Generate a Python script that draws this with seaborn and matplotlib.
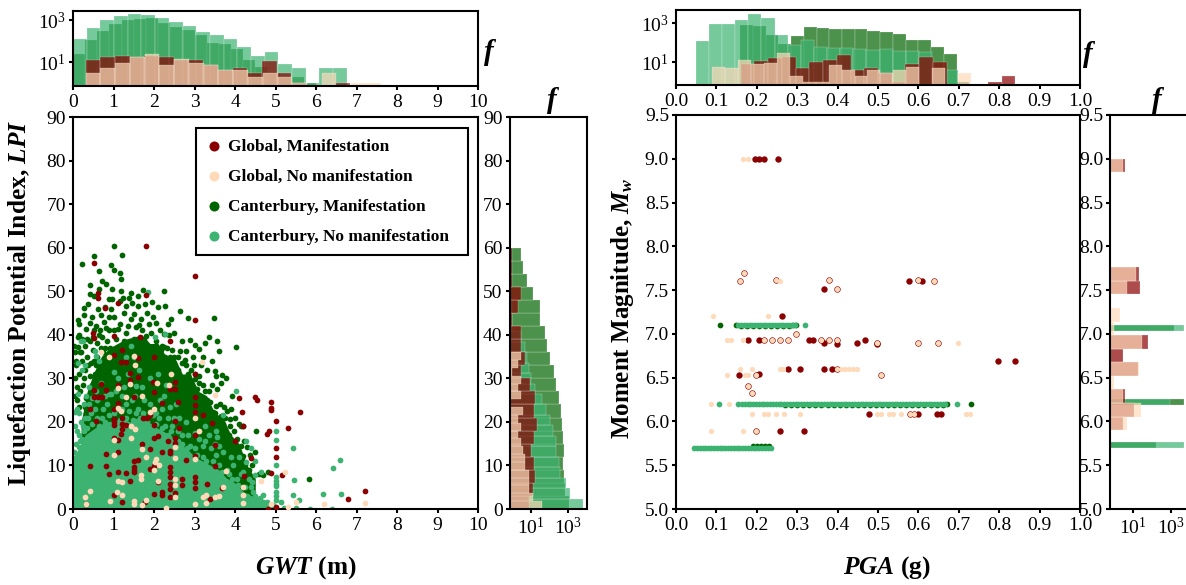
import numpy as np
import pandas as pd
import matplotlib
matplotlib.use('Agg')
import matplotlib.pyplot as plt
import seaborn as sns

W, H = 1186, 585

C_MAN = 'darkgreen'
C_NO = 'mediumseagreen'
G_MAN = 'darkred'
G_NO = 'peachpuff'

# scatter points, left panel (GWT, LPI)
canterbury_man_lpi = [(1.01,60.3),(.53,58.1),(1.21,58.3),(.23,56.2),(.95,56),(1.01,54.8),(.63,54.6),(1.15,54.2),(1.19,52.9),(.72,52.4),
    (.41,51.4),(.82,51.6),(.97,50.6),(.64,50.6),(1.19,50),(1.74,50.3),(2.25,50),(1.42,49.7),(.41,49.4),(.53,49),(1.6,49),(.96,48.2),
    (1.38,48.5),(1.15,47.8),(.37,47.1),(.78,46.3),(.26,46.1),(1.6,46.5),(1.46,47.3),(1.96,47.6),(2.26,46.5),(2.1,46.3),(2.65,45.4),
    (2.84,43.8),(3.47,43.9),(.12,43.5),(.7,44.5),(.89,44),(.41,42.6),(1.15,42.5),(1.44,43.6),(1.69,43.6),(2.04,42.7),(1.87,42.5),
    (.16,42.5),(.56,42.1),(.82,41.5),(.33,41.3),(1.11,41.3),(1.56,41.7),(1.93,40.5),(2.25,40.2),(2.36,39.9),(3.35,39.6),(3.56,38.6),
    (.49,39.4),(.12,37.1),(.04,36),(4.03,37.3),(3.6,36.3),(3,37.7),(2.8,36.3),(2.63,36.3),(2.59,34.8),(2.76,34.3),(2.96,34.8),(3.42,34),
    (2.98,33),(3.5,31.6),(3.67,30.8),(3.77,30),(3.54,30.6),(3.65,29),(3.36,27.2),(3.56,27.5),(3.93,26),(3.54,23.7),(3.36,22.3),(3.45,22.2),
    (3.65,21.4),(3.75,21),(3.87,20.7),(3.87,19.1),(4.16,19),(4.2,19),(4.53,17.8),(4,15.7),(4.07,12.6),(4.3,14.2),(4.2,12.2),(4.69,7.7),
    (4.81,8.4),(5.82,7),(.9,41),(1.3,40.5),(1.7,41),(.6,38),(.85,38.5),(1.05,39),(1.25,38.6),(1.5,39),(1.75,38.8),(2.05,38.5),(2.2,37.5),
    (.2,36),(.35,35),(.5,36.5),(.75,36),(2.45,36.5),(2.35,34),(2.6,32),(2.85,31),(3.1,30.5),(3.2,28.5),(3.05,27.5),(3.3,25),(3.15,24),
    (3.4,20),(3.6,18.5),(3.75,16),(3.9,14),(4.1,10.5),(4.35,9),(.08,33),(.15,31),(.3,32),(.42,30.5),(.1,28),(.25,28.5),(.38,26),(.55,31),
    (.6,27),(2.75,29),(2.95,27),(3.25,22.5),(3.5,19),(3.7,17),(4.05,14),(4.25,10),(2.5,33.5),(.68,33),(3.3,32),(3.2,35),(3.9,11),(.03,37.5),
    (.14,40),(.22,39),(.3,37.5),(.42,38.5),(.52,41),(.63,40),(.72,39.5),(.78,37),(.92,37),(.98,35.5),(1.1,37.3),(1.18,35.5),(1.33,37.2),
    (1.4,35.8),(1.47,36.6),(1.58,38),(1.65,36.5),(1.72,37.6),(1.8,39.8),(1.86,37),(1.95,36.5),(2.05,36),(2.12,35),(2.18,36.6),(2.28,35),
    (2.33,37),(2.42,32.5),(2.5,35),(2.55,30.7),(2.68,33.5),(2.72,30),(2.8,33),(2.9,28.5),(3.02,31),(3.08,26),(3.12,29),(3.25,27),(3.38,24.5),
    (3.42,28.5),(3.5,22),(3.62,24),(3.7,19.5),(3.8,22.5),(3.85,17),(3.98,18),(4.05,16),(4.15,14.5),(4.22,15.5),(4.38,12.5),(4.42,10),(4.5,13),
    (4.6,8),(4.1,19.5),(4,21),(3.9,23),(.06,30),(.1,25),(.18,27),(.22,34),(.28,30),(.32,25.5),(.36,33),(.44,33.5),(.48,28.5),(.52,34),(.6,35),
    (.66,30),(.7,37),(.8,34.5),(.04,26),(.16,23.5),(.3,23.5),(.44,25),(.58,33),(.88,35),(1.28,36),(1.54,36),(2.25,37.2),(2.4,35),(2.65,30),
    (3.05,24),(3,29.8),(2.92,32),(3.32,23),(3.58,20),(3.72,23.5),(1.02,41.2),(1.35,42),(1.62,42.3),(.67,41),(.34,39),(.76,43),(1,44),(1.25,45),
    (1.5,44.8),(1.82,45),(1.98,44),(2.35,42.5),(2.5,40.5),(2.7,38.5),(2.9,38.7),(3.1,36.7),(3.25,38),(2.15,41),(2.42,43.6),(3.15,33),(.47,44),
    (.27,44.5),(.62,46),(.95,46),(.12,39.5),(.07,34),(.18,36),(.9,48.3),(1.23,48.5),(1.78,47),(1.3,46.7)]
canterbury_no_lpi = [(6.6,11.2),(6.42,9.4),(5.42,13.9),(5,17.8),(5,15.8),(5,10.2),(5,7.3),(5,6.5),(5,5.8),(5,5.2),(5,4),(5,3),(5,2.1),
    (4.65,8.6),(4.5,7.7),(4.4,5.1),(4.69,3.3),(5.14,1.7),(5.45,6.7),(5.43,3.2),(5.58,2.1),(6.17,3.4),(6.61,3.4),(5.84,.1),(6.4,.1),
    (4.26,15.5),(4.02,27),(3.7,21.6),(3.54,18),(4.28,10.7),(4.2,8.4),(4.43,6.1),(.25,38.6),(.06,22.3),(.12,26.4),(.23,31.8),(.54,36.3),
    (1.85,49.9),(2.02,39.6),(2.26,40.2),(1.44,37.5),(1.5,34.8),(.58,35.2),(1.56,28.3),(.95,26.4),(.16,14.2),(.2,20),(.1,18),(.3,21),
    (.25,19),(.4,24),(.45,22),(.55,23),(.6,25),(.75,23),(.85,24),(1.05,27),(1.2,26),(1.3,24),(1.45,25),(1.6,23),(1.75,25),(1.9,24),
    (2.05,22),(2.2,23),(2.35,21),(2.45,19),(2.6,18),(2.7,15),(2.85,17),(3,14),(3.1,16),(3.2,12),(3.4,14),(3.5,15),(3.6,10),(3.7,13),
    (3.8,9),(3.95,10),(4.05,7),(4.15,8),(4.25,5),(4.3,3),(4.45,4),(4.55,2),(4.7,1.5),(4.85,.8),(3.35,17),(3.55,16.5),(2.5,21),(2.8,20),
    (1.1,30),(.7,29),(1.35,31),(1.9,30),(.4,28),(2.25,26),(2.55,24),(3.25,19),(4.35,7),(4.6,1),(5.2,.3),(5.5,.2),
    (.03,13),(.08,15),(.13,12),(.18,15.5),(.05,19),(.15,17),(.22,16),(.28,18),(.34,18.5),(.38,21),(.47,19.5),(.5,17),(.6,21),(.65,19),(.72,21),
    (.8,20),(.88,21.5),(.92,19.5),(1,22),(1.08,23),(1.15,20.5),(1.22,23),(1.3,21),(1.38,22.5),(1.48,20.5),(1.55,22),(1.65,21),(1.72,22),(1.82,20),
    (1.9,19),(1.97,21.5),(2.05,19.5),(2.12,21),(2.2,18.5),(2.28,19),(2.35,17),(2.42,18),(2.52,15),(2.6,15.5),(2.68,17),(2.75,13),(2.82,14),
    (2.9,14.5),(2.98,11.5),(3.05,12.5),(3.12,10.5),(3.2,14.5),(3.28,11),(3.35,9),(3.45,11),(3.52,12.5),(3.62,7),(3.68,8.5),(3.78,6.5),(3.85,8),
    (3.92,7),(4,4.5),(4.08,5.5),(4.2,3.2),(4.38,2.5),(4.5,3),(4.62,2.5),(4.78,1.5),(4.95,.9),(.58,27),(1.25,28),(.33,26),(.9,26.5),(1.52,26),
    (1.7,28),(2.15,25),(2.4,23.5),(2.62,21),(3,17.5),(3.25,15.5),(3.6,14.5),(3.9,12),(4.1,12),(.15,22),(.27,24),(.48,25.5),(.1,23),(1.02,31.5),
    (.78,26),(.12,33.5),(.2,38.5),(.3,33),(2.1,31),(2.3,28.5),(.65,34),(1.62,32),(1.3,35),(4.5,11),(4.4,14)]
global_man_lpi = [(1.8,60.3),(3,53.4),(.51,56.5),(.62,49.5),(.61,48.4),(1.81,49.2),(1.11,47.4),(.8,46.1),(3,43.3),(2.4,38.5),(.49,40.5),
    (.51,39.2),(1,39.8),(1.65,39.4),(1.21,36.6),(1.01,35.3),(2,34.8),(1.6,34.7),(1.19,33.7),(1.3,33.7),(1.41,31.2),(1.6,30.2),(1.4,29.7),
    (3,30.9),(1.98,29.2),(2.51,29.1),(.7,28.7),(1.11,28.5),(.51,27.3),(.81,27.4),(2.4,27.5),(2.51,27.5),(2,26.9),(.51,25.8),(.62,25.8),
    (.72,25.8),(1.5,25.8),(3,25.8),(4.1,25.4),(4.5,25.6),(4.55,25.1),(4.9,24.5),(4.9,23.3),(4.9,22.8),(5.6,22.3),(4.18,22.2),(2.2,24.3),
    (2.6,24.5),(1.11,24.3),(1,23),(.41,23),(3,23.9),(3,22.2),(3.21,21.6),(1.9,21.6),(1.73,21),(1.82,21),(1.21,21),(1,20.7),(1,20),(1,19.3),
    (.58,20.3),(1.21,19.5),(1.32,19.4),(1.21,18.4),(1.19,17.2),(2,19.4),(2.51,20.3),(2.61,18.5),(3.42,19.7),(4.2,19),(5,20.3),(5.3,18.7),
    (4.84,18),(4.8,17.2),(3,17),(2.1,16.7),(1.99,16.4),(2.51,16.2),(1,16.4),(1.11,15.9),(1.71,14.9),(2.35,15.7),(2.51,15.1),(3.5,14.7),
    (4,15.7),(1.9,13.8),(2.4,13.4),(2.4,12.8),(2.2,13.2),(1.11,13),(.81,12.6),(3,12.2),(2.8,11.2),(1.51,11.1),(1.6,11.2),(5,14.1),(5,12),
    (4.4,11.8),(.41,9.9),(.81,9.9),(3.5,9.9),(1.51,9.6),(1.51,9),(1.51,8.4),(1.9,9.2),(2,9.8),(2.4,9.6),(2.4,8.4),(2.4,7.3),(1.11,8.6),
    (.9,8),(1.3,8.2),(4.9,8.2),(5.16,7.9),(4.21,7.5),(1.41,6.5),(2.7,6.9),(2.7,5.4),(2.4,5.7),(2.4,4.6),(3,7.3),(3,6.1),(3,4.8),(2.1,6.3),
    (3.3,5.7),(3.69,4.8),(7.2,4.2),(6.79,2.4),(2,3.4),(2.2,3.8),(2.2,3.3),(1,3.3),(2.51,3.7),(2.4,2.8),(1.21,1.7),(1.79,1.5),(3.39,2.3),
    (.31,1.1),(5,.4),(4.81,.1)]
global_no_lpi = [(3.19,33.8),(3.5,26.2),(.9,35),(1.51,35.2),(.7,36),(1.54,33.1),(2.41,31),(1.4,28.7),(2.37,28.5),(2.07,28.9),(1.11,27.7),
    (1.71,26),(1.3,25.6),(1.11,23.1),(1.19,22.6),(2,23),(1.9,22.3),(3,21),(1.44,19.1),(1.52,18.4),(3.11,18),(1,15.9),(1.44,16.2),(1.71,13.8),
    (2.51,14.2),(1,12.5),(2.51,11.7),(1.81,11.9),(3,11.5),(2.06,11.5),(2.02,10.7),(2.12,10.2),(2,9),(3.79,8.8),(5.23,8.6),(1.69,7.7),(1.69,6.9),
    (1.11,6.5),(1.22,6.1),(2.1,6.5),(2.51,6.9),(2.51,5.4),(4.65,6.4),(4.2,5),(.41,4.2),(3.7,5.1),(1.09,3.8),(1.21,3.3),(.3,2.7),(.91,1.9),
    (1.51,1.9),(1.51,1.1),(1.81,2.1),(1.71,.9),(2.3,.2),(3.21,2.7),(3.28,3.1),(3.5,2.7),(3.6,2.9),(3.29,1.4),(4.2,3.1),(4.2,1.4),(4.9,1.1),
    (5.5,1.5),(5.3,.4),(6.2,1.1),(7.2,1.4),(.31,1.1),(2.51,2.7),(3,1.1)]

# where the markers overlap into a solid mass they are drawn as one filled area
dark_mass_gwt = [.2,.35,.5,.7,.9,1.1,1.3,1.5,1.7,1.9,2.1,2.3,2.5,2.7,2.9,3.1,3.3,3.5,3.7,3.9,4.1,4.3,4.5]
dark_mass_lpi = [20,27,31,35,37,38,39,39.5,40,38,38,35,35,31,31,27,26,22,21,17,15,10,7]
light_mass_gwt = [0,.15,.3,.45,.6,.8,1,1.2,1.4,1.6,1.8,2,2.2,2.4,2.6,2.8,3,3.2,3.4,3.6,3.8,4,4.2,4.4,4.6,4.8,5]
light_mass_lpi = [12,14,17,18,19,20,20,21,20,21,20,19,18,17,15,14,12,11,10,9,7,6,4,3,2,1,.3]

# right panel (PGA, Mw), rows of one magnitude each
canterbury_man_pga = [(.11,7.1),(.148,7.1),(.298,7.1),(.29,7.1),(.672,6.2),(.73,6.2)]
canterbury_man_bar_71 = [.16,.175,.19,.205,.22,.235,.25,.265,.28]
canterbury_man_bar_62 = [.27,.285,.3,.315,.33,.345,.36,.375,.39,.405,.42,.435,.45,.465,.48,.495,.51,.525,.54,.555,.57,.585,.6,.615,.63,.645,.66]
canterbury_man_bar_57 = [.19,.2,.21,.22,.23]
canterbury_no_bar_71 = [.154,.161,.168,.175,.182,.189,.196,.203,.21,.217,.224,.231,.238,.245,.252,.259,.266,.273,.28,.287,.295]
canterbury_no_bar_62 = [.163,.17,.177,.184,.191,.198,.205,.212,.219,.226,.233,.24,.247,.254,.261,.268,.275,.282,.289,.296,.303,.31,.317,.324,
    .331,.338,.345,.352,.359,.366,.373,.38,.387,.394,.401,.408,.415,.422,.429,.436,.443,.45,.457,.464,.471,.478,.485,.492,.499,.506,.513,.52,
    .527,.534,.541,.548,.555,.562,.569,.576,.583,.59,.597,.604,.611,.618,.625,.632,.639,.646,.653,.66,.667]
canterbury_no_bar_57 = [.045,.052,.059,.066,.073,.08,.087,.094,.101,.108,.115,.122,.129,.136,.143,.15,.157,.164,.171,.178,.185,.192,.199,.206,.213,.22,.227,.235]
canterbury_no_pga = [(.32,7.1),(.107,6.2),(.153,6.2),(.695,6.2)]
global_man_pga = [(.196,9),(.206,9),(.217,9),(.253,9),(.168,7.7),(.159,7.6),(.247,7.62),(.378,7.62),(.367,7.51),(.399,7.51),(.577,7.6),
    (.598,7.62),(.608,7.6),(.638,7.6),(.262,7.2),(.297,7),(.177,6.93),(.206,6.93),(.218,6.93),(.238,6.93),(.258,6.93),(.277,6.93),(.328,6.93),
    (.338,6.93),(.358,6.93),(.378,6.93),(.398,6.93),(.468,6.93),(.367,6.9),(.398,6.89),(.447,6.9),(.498,6.88),(.498,6.9),(.598,6.9),(.648,6.9),
    (.798,6.69),(.838,6.69),(.277,6.6),(.308,6.6),(.367,6.6),(.387,6.6),(.398,6.6),(.157,6.53),(.198,6.53),(.205,6.54),(.507,6.53),(.177,6.4),
    (.187,6.33),(.478,6.09),(.578,6.09),(.588,6.09),(.598,6.09),(.647,6.09),(.657,6.09),(.197,5.89),(.257,5.89),(.318,5.89)]
global_no_pga = [(.167,9),(.177,9),(.168,7.7),(.159,7.6),(.247,7.62),(.257,7.6),(.378,7.62),(.399,7.51),(.598,7.62),(.638,7.6),(.092,7.2),(.227,7.2),
    (.297,7),(.127,6.93),(.137,6.93),(.167,6.93),(.218,6.93),(.238,6.93),(.258,6.93),(.277,6.93),(.358,6.93),(.378,6.93),(.398,6.93),(.498,6.9),
    (.598,6.9),(.648,6.9),(.698,6.9),(.158,6.6),(.187,6.6),(.258,6.6),(.266,6.6),(.398,6.6),(.408,6.6),(.418,6.6),(.428,6.6),(.438,6.6),(.447,6.6),
    (.127,6.53),(.17,6.53),(.177,6.53),(.198,6.53),(.507,6.53),(.177,6.4),(.187,6.33),(.087,6.2),(.131,6.2),(.187,6.09),(.218,6.09),(.227,6.09),
    (.247,6.09),(.267,6.09),(.308,6.09),(.498,6.09),(.507,6.09),(.527,6.09),(.537,6.09),(.557,6.09),(.578,6.09),(.588,6.09),(.717,6.09),(.727,6.09),
    (.087,5.89),(.167,5.89),(.197,5.89)]

# histogram counts and bin edges
gwt_edges_c_man = [0,.3,.6,.9,1.2,1.5,1.8,2.1,2.4,2.7,3,3.3,3.6,3.9,4.2,4.5,4.8,5.1,5.4,5.7,6]
gwt_counts_c_man = [24,112,310,650,1000,1150,1250,750,480,335,190,83,70,40,12,6,3,2,2,1]
gwt_edges_c_no = [0,.338,.676,1.014,1.352,1.69,2.028,2.366,2.704,3.042,3.38,3.718,4.056,4.394,4.732,5.07,5.408,5.746,6.084,6.422,6.77]
gwt_counts_c_no = [120,430,1000,1600,1860,1720,1200,830,540,270,185,120,50,19,29,8,5,1,5,5]
gwt_edges_g_man = [.31,.67,1.03,1.4,1.76,2.12,2.49,2.85,3.21,3.58,3.94,4.3,4.67,5.03,5.39,5.76,6.12,6.48,6.85]
gwt_counts_g_man = [12,17,19,17,19,17,13,13,7,4,5,3,11,3,1,0,0,1]
gwt_edges_g_no = [.31,.675,1.04,1.4,1.77,2.13,2.5,2.86,3.23,3.59,3.95,4.32,4.68,5.05,5.41,5.78,6.14,6.5,6.87,7.23,7.6]
gwt_counts_g_no = [3,5,9,17,23,7,14,9,7,4,4,2,3,2,1,0,3,0,1,1]

pga_edges_c_man = [.159,.1905,.222,.2535,.285,.3165,.348,.3795,.411,.4425,.474,.5055,.537,.5685,.6,.6315,.663,.6945,.726]
pga_counts_c_man = [760,680,240,90,213,630,580,520,500,480,380,350,270,134,134,62,28,1]
pga_edges_c_no = [.049,.0815,.114,.1465,.179,.2115,.244,.2765,.309,.3415,.374,.4065,.439,.4715,.504,.5365,.569,.6015,.634,.6665,.699]
pga_counts_c_no = [123,930,860,1470,2970,1860,260,81,145,62,55,55,50,43,47,40,37,34,5,4]
pga_edges_g_man = [.16,.194,.228,.262,.296,.33,.364,.398,.432,.466,.5,.534,.568,.602,.636,.67,.704,.738,.772,.806,.84]
pga_counts_g_man = [8,12,17,19,5,11,13,25,4,5,3,1,8,19,10,0,0,0,1,2]
pga_edges_g_no = [.09,.122,.154,.186,.218,.25,.282,.314,.346,.378,.41,.442,.474,.506,.538,.57,.602,.634,.666,.698,.73]
pga_counts_g_no = [6,5,13,8,9,32,2,1,1,7,4,2,4,3,4,6,0,5,0,3]

lpi_edges_c_man = [0,3,6,9,12,15,18,21,24,27,30,33,36,39,42,45,48,51,54,57,60]
lpi_counts_c_man = [1130,660,610,540,590,540,500,420,330,240,173,115,77,58,31,31,14,6,4,3]
lpi_edges_c_no = [0,2.4,4.8,7.2,9.6,12,14.4,16.8,19.2,21.6,24,26.4,28.8,31.2,33.6,36,38.4,40.8,43.2,45.6,48]
lpi_counts_c_no = [6700,1340,750,360,330,240,220,160,115,70,38,17,10,8,6,5,3,1,1,1]
lpi_edges_g_man = lpi_edges_c_man
lpi_counts_g_man = [8,14,17,15,11,15,21,15,17,9,3,5,3,3,1,2,3,1,1,1]
lpi_edges_g_no = [0,1.8,3.6,5.4,7.2,9,10.8,12.6,14.4,16.2,18,19.8,21.6,23.4,25.2,27,28.8,30.6,32.4,34.2,36]
lpi_counts_g_no = [42,14,8,8,8,5,5,4,3,2,3,2,4,0,3,2,3,1,2,3]

mw_edges_c = [5.7,5.77,5.84,5.91,5.98,6.05,6.12,6.19,6.26,6.33,6.4,6.47,6.54,6.61,6.68,6.75,6.82,6.89,6.96,7.03,7.1]
mw_counts_c_man = [150,0,0,0,0,0,0,4600,0,0,0,0,0,0,0,0,0,0,0,1330]
mw_counts_c_no = [4600,0,0,0,0,0,0,890,0,0,0,0,0,0,0,0,0,0,0,4400]
mw_edges_g = [5.9,6.055,6.21,6.365,6.52,6.675,6.83,6.985,7.14,7.295,7.45,7.605,7.76,7.915,8.07,8.225,8.38,8.535,8.69,8.845,9]
mw_counts_g_man = [3,12,4,0,18,3,58,0,0,0,24,20,0,0,0,0,0,0,0,4]
mw_counts_g_no = [5,27,3,1,21,0,28,1,2,0,5,14,0,0,0,0,0,0,0,3]

sns.set_theme(style='ticks', rc={'axes.linewidth': 1.5, 'xtick.major.width': 1.5, 'ytick.major.width': 1.5,
                                 'xtick.major.size': 3, 'ytick.major.size': 3, 'xtick.major.pad': 3, 'ytick.major.pad': 2,
                                 'xtick.color': 'black', 'ytick.color': 'black', 'axes.edgecolor': 'black',
                                 'text.color': 'black', 'axes.labelcolor': 'black'})
plt.rcParams['font.family'] = ['Liberation Serif', 'DejaVu Serif']
plt.rcParams['mathtext.fontset'] = 'custom'
plt.rcParams['mathtext.rm'] = 'Liberation Serif'
plt.rcParams['mathtext.it'] = 'Liberation Serif:italic:bold'
plt.rcParams['mathtext.bf'] = 'Liberation Serif:bold'

fig = plt.figure(figsize=(W / 100, H / 100), dpi=100)


def px_axes(x0, y0, x1, y1):
    return fig.add_axes([x0 / W, 1 - y1 / H, (x1 - x0) / W, (y1 - y0) / H])


def points(ax, pts, color, s=17, zorder=1):
    df = pd.DataFrame(pts, columns=['x', 'y'])
    sns.scatterplot(data=df, x='x', y='y', color=color, s=s, linewidth=0, ax=ax, legend=False, zorder=zorder)


def hist_top(ax, edges, counts, color):
    mids = [(a + b) / 2 for a, b in zip(edges[:-1], edges[1:])]
    sns.histplot(x=mids, weights=counts, bins=edges, color=color, alpha=0.7,
                 edgecolor='white', linewidth=0.15, ax=ax)


def hist_side(ax, edges, counts, color):
    mids = [(a + b) / 2 for a, b in zip(edges[:-1], edges[1:])]
    sns.histplot(y=mids, weights=counts, bins=edges, color=color, alpha=0.7,
                 edgecolor='white', linewidth=0.15, ax=ax)


def style(ax):
    ax.set_xlabel('')
    ax.set_ylabel('')
    ax.tick_params(labelsize=14, length=3, width=1.5)
    ax.minorticks_off()


# left panel
ax1 = px_axes(73, 117, 478, 509)
ax1.fill_between(dark_mass_gwt, 0, dark_mass_lpi, color=C_MAN, linewidth=0, zorder=0.5)
points(ax1, canterbury_man_lpi, C_MAN, zorder=1)
ax1.fill_between(light_mass_gwt, 0, light_mass_lpi, color=C_NO, linewidth=0, zorder=1.5)
points(ax1, canterbury_no_lpi, C_NO, zorder=2)
points(ax1, global_man_lpi, G_MAN, zorder=3)
points(ax1, global_no_lpi, G_NO, zorder=4)
ax1.set_xlim(0, 10)
ax1.set_ylim(0, 90)
ax1.set_xticks(range(0, 11))
ax1.set_yticks(range(0, 91, 10))
style(ax1)

# empty handles so the legend keeps the reference order
for lab, col in [('Global, Manifestation', G_MAN), ('Global, No manifestation', G_NO),
                 ('Canterbury, Manifestation', C_MAN), ('Canterbury, No manifestation', C_NO)]:
    ax1.scatter([], [], color=col, s=52, linewidth=0, label=lab)
ax1.legend(loc='upper left', bbox_to_anchor=((196 - 73) / 405, (509 - 255) / 392, 272 / 405, 127 / 392), mode='expand',
           borderaxespad=0, fancybox=False, edgecolor='black', framealpha=1, labelspacing=0.82,
           handlelength=0.9, handletextpad=0.35, borderpad=0.6,
           prop={'family': 'Liberation Serif', 'weight': 'bold', 'size': 12.4}).get_frame().set_linewidth(1.5)

ax1t = px_axes(73, 11, 478, 86)
ax1t.set_yscale('log')
hist_top(ax1t, gwt_edges_c_man, gwt_counts_c_man, C_MAN)
hist_top(ax1t, gwt_edges_c_no, gwt_counts_c_no, C_NO)
hist_top(ax1t, gwt_edges_g_man, gwt_counts_g_man, G_MAN)
hist_top(ax1t, gwt_edges_g_no, gwt_counts_g_no, G_NO)
ax1t.set_xlim(0, 10)
ax1t.set_ylim(0.72, 10 ** 3.43)
ax1t.set_xticks(range(0, 11))
ax1t.set_yticks([10, 1000])
style(ax1t)

ax1r = px_axes(509.5, 117, 587, 509)
ax1r.set_xscale('log')
hist_side(ax1r, lpi_edges_c_man, lpi_counts_c_man, C_MAN)
hist_side(ax1r, lpi_edges_c_no, lpi_counts_c_no, C_NO)
hist_side(ax1r, lpi_edges_g_man, lpi_counts_g_man, G_MAN)
hist_side(ax1r, lpi_edges_g_no, lpi_counts_g_no, G_NO)
ax1r.set_ylim(0, 90)
ax1r.set_xlim(0.73, 10 ** 4.02)
ax1r.set_yticks(range(0, 91, 10))
ax1r.set_xticks([10, 1000])
style(ax1r)

# right panel
ax2 = px_axes(676, 115, 1080, 509)
points(ax2, canterbury_man_pga, C_MAN)
points(ax2, [(x, 7.09) for x in canterbury_man_bar_71], C_MAN)
points(ax2, [(x, 6.185) for x in canterbury_man_bar_62], C_MAN)
points(ax2, [(x, 5.715) for x in canterbury_man_bar_57], C_MAN)
points(ax2, canterbury_no_pga, C_NO)
points(ax2, [(x, 7.1) for x in canterbury_no_bar_71], C_NO)
points(ax2, [(x, 6.2) for x in canterbury_no_bar_62], C_NO)
points(ax2, [(x, 5.7) for x in canterbury_no_bar_57], C_NO)
points(ax2, global_man_pga, G_MAN, s=21)
points(ax2, global_no_pga, G_NO, s=14)
ax2.set_xlim(0, 1)
ax2.set_ylim(5, 9.5)
ax2.set_xticks(np.arange(0, 1.01, 0.1))
ax2.set_yticks(np.arange(5, 9.51, 0.5))
style(ax2)

ax2t = px_axes(676, 10, 1080, 85)
ax2t.set_yscale('log')
hist_top(ax2t, pga_edges_c_man, pga_counts_c_man, C_MAN)
hist_top(ax2t, pga_edges_c_no, pga_counts_c_no, C_NO)
hist_top(ax2t, pga_edges_g_man, pga_counts_g_man, G_MAN)
hist_top(ax2t, pga_edges_g_no, pga_counts_g_no, G_NO)
ax2t.set_xlim(0, 1)
ax2t.set_ylim(0.71, 10 ** 3.67)
ax2t.set_xticks(np.arange(0, 1.01, 0.1))
ax2t.set_yticks([10, 1000])
style(ax2t)

ax2r = px_axes(1110.3, 115, 1186, 509)
ax2r.set_xscale('log')
hist_side(ax2r, mw_edges_c, mw_counts_c_man, C_MAN)
hist_side(ax2r, mw_edges_c, mw_counts_c_no, C_NO)
hist_side(ax2r, mw_edges_g, mw_counts_g_man, G_MAN)
hist_side(ax2r, mw_edges_g, mw_counts_g_no, G_NO)
ax2r.set_ylim(5, 9.5)
ax2r.set_xlim(0.66, 10 ** 3.76)
ax2r.set_yticks(np.arange(5, 9.51, 0.5))
ax2r.set_xticks([10, 1000])
style(ax2r)
ax2r.spines['right'].set_visible(False)

# labels
fig.text(20 / W, 1 - 303 / H, r'Liquefaction Potential Index, $\mathit{LPI}$', rotation=90, ha='center', va='center',
         fontsize=18.3, fontweight='bold')
fig.text(623 / W, 1 - 308 / H, r'Moment Magnitude, $\mathit{M_w}$', rotation=90, ha='center', va='center',
         fontsize=18, fontweight='bold')
fig.text(306 / W, 1 - 568 / H, r'$\mathit{GWT}$ (m)', ha='center', va='center', fontsize=18.3, fontweight='bold')
fig.text(887 / W, 1 - 568 / H, r'$\mathit{PGA}$ (g)', ha='center', va='center', fontsize=18.3, fontweight='bold')
for x, y in [(490, 53), (1089, 55), (553, 100), (1158, 100)]:
    fig.text(x / W, 1 - y / H, r'$\mathit{f}$', ha='center', va='center', fontsize=21)

fig.savefig('out.png', dpi=100)
